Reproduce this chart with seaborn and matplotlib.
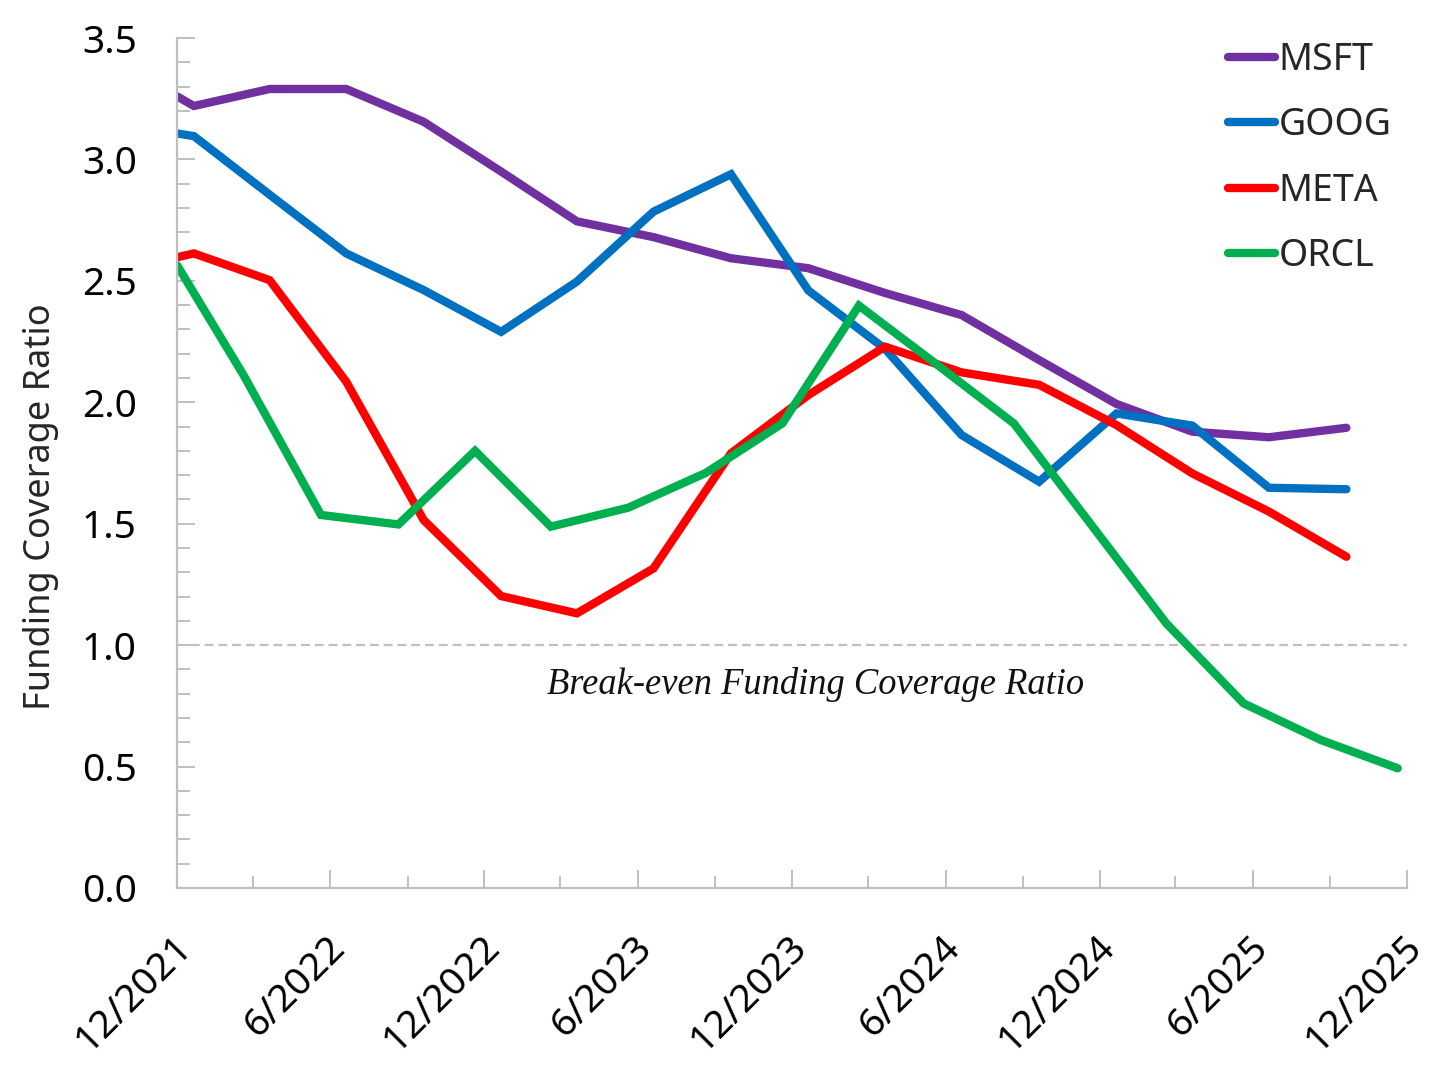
import matplotlib
matplotlib.use('Agg')
import matplotlib.pyplot as plt
import matplotlib.dates as mdates
import matplotlib.ticker as mticker
import matplotlib.transforms as mtransforms
import seaborn as sns
import pandas as pd

# quarter-end dates (calendar fiscal years) and Oracle fiscal quarter ends
cal_dates = ['2021-12-11', '2021-12-31', '2022-03-31', '2022-06-30', '2022-09-30',
             '2022-12-31', '2023-03-31', '2023-06-30', '2023-09-30', '2023-12-31',
             '2024-03-31', '2024-06-30', '2024-09-30', '2024-12-31', '2025-03-31',
             '2025-06-30', '2025-09-30']
orcl_dates = ['2021-12-11', '2022-02-28', '2022-05-31', '2022-08-31', '2022-11-30',
              '2023-02-28', '2023-05-31', '2023-08-31', '2023-11-30', '2024-02-29',
              '2024-05-31', '2024-08-31', '2024-11-30', '2025-02-28', '2025-05-31',
              '2025-08-31', '2025-11-30']

msft = [3.26, 3.22, 3.29, 3.29, 3.155, 2.95, 2.745, 2.68, 2.593, 2.552, 2.45,
        2.359, 2.174, 1.993, 1.879, 1.856, 1.895]
goog = [3.107, 3.096, 2.855, 2.613, 2.462, 2.29, 2.497, 2.785, 2.939, 2.46, 2.22,
        1.865, 1.673, 1.954, 1.904, 1.648, 1.642]
meta = [2.597, 2.613, 2.503, 2.085, 1.515, 1.202, 1.131, 1.316, 1.79, 2.03, 2.229,
        2.123, 2.072, 1.906, 1.707, 1.55, 1.364]
orcl = [2.565, 2.112, 1.536, 1.497, 1.80, 1.488, 1.566, 1.709, 1.913, 2.398, 2.157,
        1.913, 1.50, 1.09, 0.76, 0.609, 0.493]

companies = ['MSFT', 'GOOG', 'META', 'ORCL']
colors = {'MSFT': '#7030A0', 'GOOG': '#0070C0', 'META': '#FF0000', 'ORCL': '#00B050'}

frames = []
for name, dates, vals in [('MSFT', cal_dates, msft), ('GOOG', cal_dates, goog),
                          ('META', cal_dates, meta), ('ORCL', orcl_dates, orcl)]:
    frames.append(pd.DataFrame({'date': pd.to_datetime(dates), 'ratio': vals, 'company': name}))
df = pd.concat(frames, ignore_index=True)

sns.set_style('white')
plt.rcParams['font.family'] = ['Noto Sans', 'DejaVu Sans']

fig = plt.figure(figsize=(14.56, 10.68), dpi=100)
ax = fig.add_axes([177 / 1456, 1 - 888 / 1068, 1230 / 1456, 850 / 1068])

sns.lineplot(data=df, x='date', y='ratio', hue='company', hue_order=companies,
             palette=colors, linewidth=6, ax=ax, solid_capstyle='round',
             solid_joinstyle='miter', estimator=None, sort=True)

x0 = pd.Timestamp('2021-12-11')
x1 = pd.Timestamp('2025-12-11')
ax.set_xlim(x0, x1)
ax.set_ylim(0, 3.5)

# break-even line
ax.axhline(1.0, color='#BFBFBF', linewidth=1.6, dashes=(4, 2.2), zorder=1)
trans = mtransforms.blended_transform_factory(ax.transAxes, ax.transData)
ax.text(0.5195, 0.80, 'Break-even Funding Coverage Ratio', transform=trans,
        ha='center', va='baseline', fontsize=26.3, style='italic',
        family='Liberation Serif', color='#111111')

# ticks
major = pd.date_range(x0, periods=9, freq=pd.DateOffset(months=6))
minor = pd.date_range(x0, periods=17, freq=pd.DateOffset(months=3))
ax.set_xticks(major)
ax.set_xticks(minor, minor=True)
ax.xaxis.set_major_formatter(mticker.FuncFormatter(
    lambda v, p: '{}/{}'.format(mdates.num2date(v).month, mdates.num2date(v).year)))
ax.set_yticks([0, 0.5, 1.0, 1.5, 2.0, 2.5, 3.0, 3.5])
ax.set_yticks([i / 10 for i in range(36)], minor=True)
ax.yaxis.set_major_formatter(mticker.FormatStrFormatter('%.1f'))

ax.tick_params(axis='both', which='both', bottom=True, left=True)
ax.tick_params(axis='both', which='major', direction='in', length=13, width=1.4,
               color='#BFBFBF', labelsize=28, labelcolor='black')
ax.tick_params(axis='both', which='minor', direction='in', length=9, width=1.4,
               color='#BFBFBF')
ax.tick_params(axis='y', which='major', pad=29)
ax.tick_params(axis='x', which='major', pad=29)
shift = mtransforms.ScaledTranslation(-4 / 100, 0, fig.dpi_scale_trans)
for lbl in ax.get_xticklabels():
    lbl.set_rotation(45)
    lbl.set_ha('right')
    lbl.set_va('top')
    lbl.set_rotation_mode('anchor')
    lbl.set_transform(lbl.get_transform() + shift)

for side in ['top', 'right']:
    ax.spines[side].set_visible(False)
for side in ['left', 'bottom']:
    ax.spines[side].set_color('#BFBFBF')
    ax.spines[side].set_linewidth(1.6)

ax.set_xlabel('')
ax.set_ylabel('Funding Coverage Ratio', fontsize=26)
ax.yaxis.set_label_coords(-0.096, 0.449)

leg = ax.legend(loc='upper left', bbox_to_anchor=(1228 / 1456, 1 - 41 / 1068),
                bbox_transform=fig.transFigure, frameon=False, fontsize=27,
                handlelength=1.25, handletextpad=0.1, labelspacing=0.73,
                borderpad=0, borderaxespad=0)
for line in leg.get_lines():
    line.set_linewidth(6)
    line.set_solid_capstyle('round')

fig.savefig('out.png', dpi=100, facecolor='white')
